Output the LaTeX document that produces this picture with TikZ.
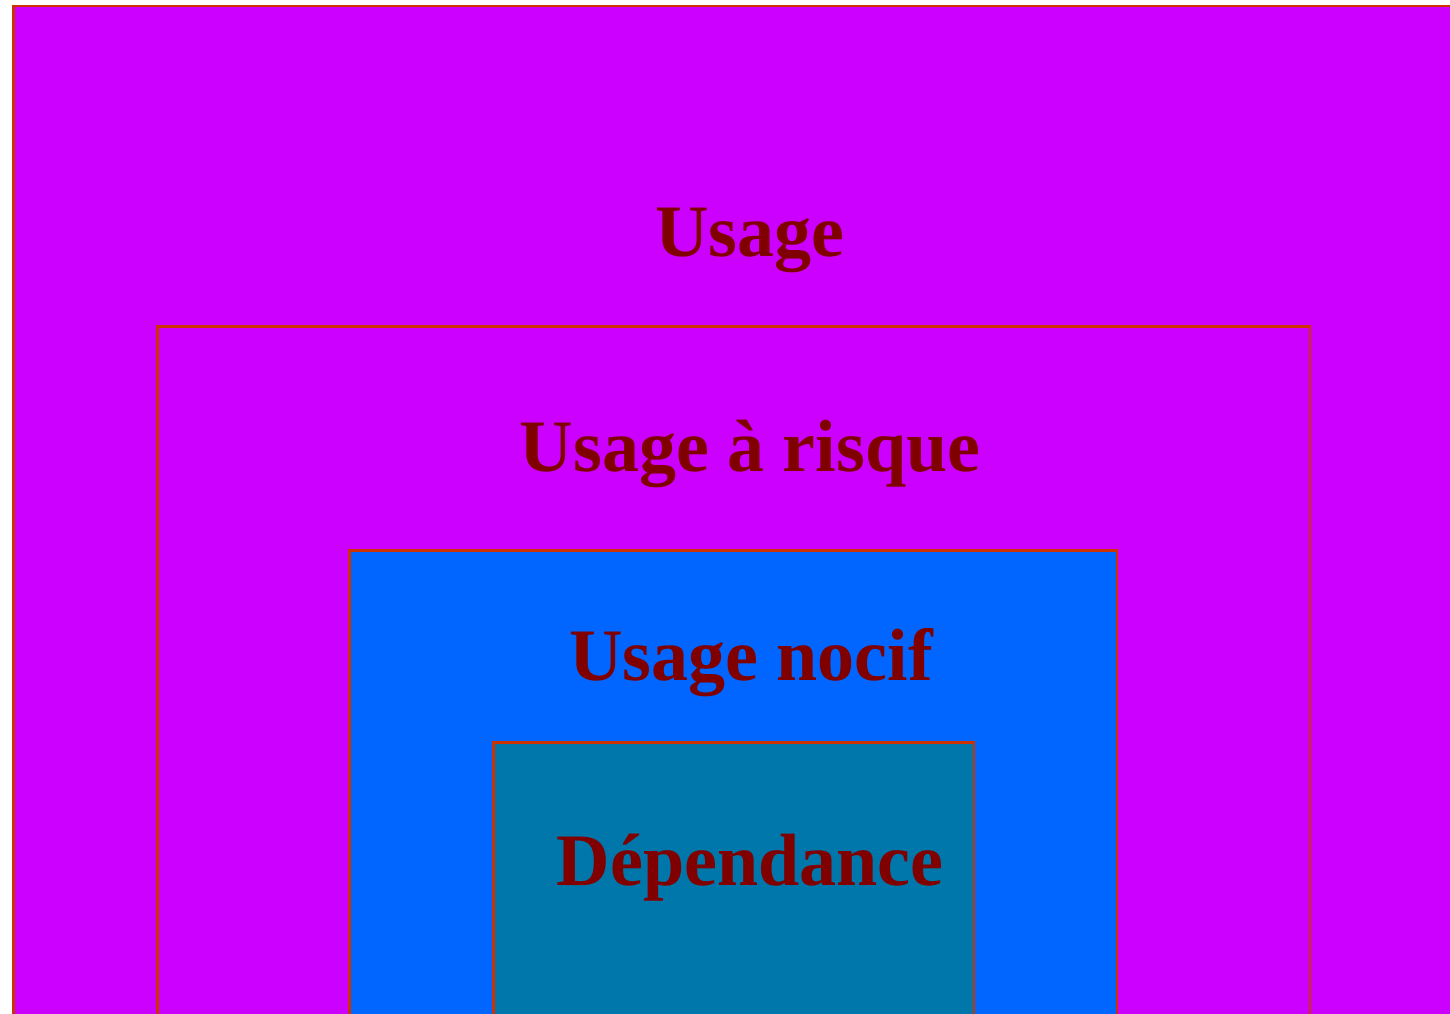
\documentclass[tikz,border=0pt]{standalone}
\usepackage{fontspec}
\setmainfont{Liberation Serif}
\definecolor{violetfill}{HTML}{CC00FF}
\definecolor{bluefill}{HTML}{0066FF}
\definecolor{tealfill}{HTML}{0077AA}
\definecolor{edgered}{HTML}{CC3300}
\definecolor{textred}{HTML}{800000}
\begin{document}
\begin{tikzpicture}[x=1pt,y=-1pt,
  level/.style={draw=edgered,line width=2.5pt},
  label/.style={anchor=base,inner sep=0pt,text=textred,font=\fontsize{74}{80}\selectfont\bfseries}]
\useasboundingbox (0,0) rectangle (1450,1013);
\clip (0,0) rectangle (1450,1013);
\fill[white] (0,0) rectangle (1450,1013);
\draw[level,fill=violetfill] (13.5,6) rectangle (1470,1030);
\draw[level,fill=violetfill] (157.5,326.5) rectangle (1310,1030);
\draw[level,fill=bluefill] (349.5,550.5) rectangle (1117,1030);
\draw[level,fill=tealfill] (493.5,742.5) rectangle (974,1030);
\node[label] (usage) at (750,256) {Usage};
\node[label] (risque) at (750,471) {Usage à risque};
\node[label] (nocif) at (751,680) {Usage nocif};
\node[label] (dep) at (750,885) {Dépendance};
\end{tikzpicture}
\end{document}
